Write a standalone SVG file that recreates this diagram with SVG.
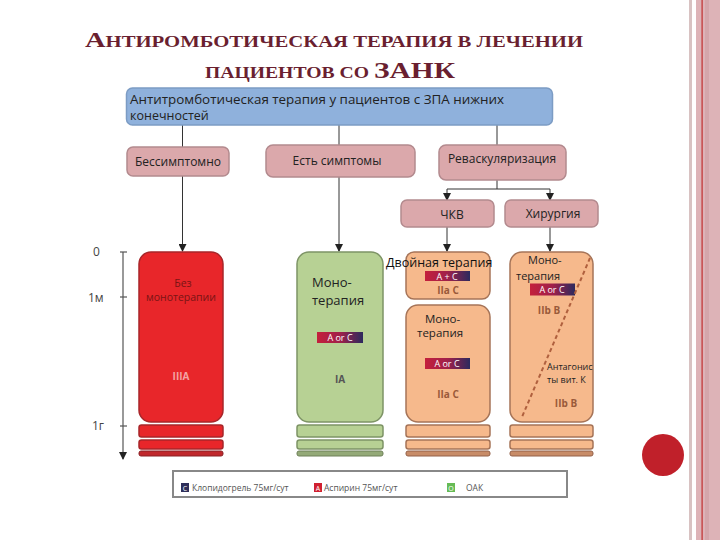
<svg xmlns="http://www.w3.org/2000/svg" width="720" height="540" viewBox="0 0 720 540">
<defs>
<marker id="arr" markerWidth="8" markerHeight="8" refX="7" refY="4" orient="auto" markerUnits="userSpaceOnUse">
<path d="M0,0 L8,4 L0,8 Z" fill="#222"/>
</marker>
<linearGradient id="badge" x1="0" y1="0" x2="1" y2="0">
<stop offset="0" stop-color="#c4203c"/>
<stop offset="0.5" stop-color="#a0204a"/>
<stop offset="1" stop-color="#2c2a5e"/>
</linearGradient>
<style>
.t{font-family:"Open Sans","Noto Sans","Liberation Sans",sans-serif;}
.ttl{font-family:"Liberation Serif","DejaVu Serif",serif;fill:#6a1f30;font-weight:bold;}
.pink{fill:#dba8ab;stroke:#b38a8e;stroke-width:1.5;}
.conn{stroke:#333;stroke-width:1;fill:none;}
.red{fill:#e8262a;stroke:#a8262a;stroke-width:1.5;}
.green{fill:#b7d194;stroke:#7e9466;stroke-width:1.5;}
.orange{fill:#f6b98c;stroke:#a67458;stroke-width:1.5;}
.bt{fill:#fff;font-size:9px;text-anchor:middle;}
.grade{font-size:10px;text-anchor:middle;font-weight:bold;}
</style>
</defs>
<rect width="720" height="540" fill="#fff"/>
<!-- decorative right border -->
<rect x="689" y="0" width="3" height="540" fill="#d8c2c2"/>
<rect x="696" y="0" width="24" height="540" fill="#ddb3b7"/>
<rect x="701.5" y="0" width="1.2" height="540" fill="#c0302e"/>
<rect x="705" y="0" width="4" height="540" fill="#d4a6aa"/>
<circle cx="663" cy="455" r="21" fill="#c0202a"/>

<!-- title -->
<g id="title">
<text class="ttl" x="85" y="47" font-size="16" textLength="498" lengthAdjust="spacingAndGlyphs"><tspan font-size="22">А</tspan>НТИРОМБОТИЧЕСКАЯ ТЕРАПИЯ В ЛЕЧЕНИИ</text>
<text class="ttl" x="205" y="78" font-size="16" textLength="250" lengthAdjust="spacingAndGlyphs">ПАЦИЕНТОВ СО <tspan font-size="24">ЗАНК</tspan></text>
</g>

<!-- connectors -->
<g id="connectors">
<line class="conn" x1="182.5" y1="125" x2="182.5" y2="147"/>
<line class="conn" x1="339" y1="125" x2="339" y2="145"/>
<line class="conn" x1="497" y1="125" x2="497" y2="145"/>
<line class="conn" x1="182.5" y1="176" x2="182.5" y2="251" marker-end="url(#arr)"/>
<line class="conn" x1="339" y1="177" x2="339" y2="251" marker-end="url(#arr)"/>
<line class="conn" x1="497" y1="180" x2="497" y2="189"/>
<line class="conn" x1="447" y1="189" x2="550" y2="189"/>
<line class="conn" x1="447" y1="189" x2="447" y2="200" marker-end="url(#arr)"/>
<line class="conn" x1="550" y1="189" x2="550" y2="200" marker-end="url(#arr)"/>
<line class="conn" x1="447" y1="227" x2="447" y2="251" marker-end="url(#arr)"/>
<line class="conn" x1="550" y1="227" x2="550" y2="251" marker-end="url(#arr)"/>
<!-- timeline -->
<line x1="123" y1="252" x2="123" y2="459" stroke="#555" stroke-width="1.2" marker-end="url(#arr)"/>
<line x1="120" y1="252" x2="127" y2="252" stroke="#555" stroke-width="1.2"/>
<line x1="120" y1="297" x2="127" y2="297" stroke="#555" stroke-width="1.2"/>
<line x1="120" y1="426" x2="127" y2="426" stroke="#555" stroke-width="1.2"/>
</g>
<g id="timeline-labels" class="t" fill="#444" font-size="12">
<text x="93" y="256">0</text>
<text x="88" y="302">1м</text>
<text x="92" y="430">1г</text>
</g>

<g id="top">
<rect x="126.5" y="88" width="426" height="37" rx="6" fill="#8fb1dc" stroke="#7c9cc4" stroke-width="1.5"/>
<text class="t" font-size="12.5" fill="#222" x="130" y="104" textLength="374" lengthAdjust="spacingAndGlyphs">Антитромботическая терапия у пациентов с ЗПА нижних</text>
<text class="t" font-size="12.5" fill="#222" x="130" y="120">конечностей</text>
</g>
<g id="asym">
<rect class="pink" x="127" y="147" width="102" height="29" rx="6"/>
<text class="t" font-size="12" fill="#222" x="178" y="166" text-anchor="middle">Бессимптомно</text>
</g>
<g id="sym">
<rect class="pink" x="266" y="145" width="149" height="32" rx="7"/>
<text class="t" font-size="12" fill="#222" x="337" y="165" text-anchor="middle">Есть симптомы</text>
</g>
<g id="revasc">
<rect class="pink" x="439" y="145" width="127" height="35" rx="7"/>
<text class="t" font-size="12" fill="#222" x="502" y="163" text-anchor="middle">Реваскуляризация</text>
</g>
<g id="pci">
<rect class="pink" x="401" y="200" width="93" height="27" rx="6"/>
<text class="t" font-size="12" fill="#222" x="452" y="219" text-anchor="middle">ЧКВ</text>
</g>
<g id="surg">
<rect class="pink" x="505" y="200" width="93" height="27" rx="6"/>
<text class="t" font-size="12" fill="#222" x="553" y="218" text-anchor="middle">Хирургия</text>
</g>

<g id="col-red">
<rect class="red" x="139" y="252" width="84" height="170" rx="12"/>
<text class="t" font-size="10.5" fill="#7a1414" x="183" y="287" text-anchor="middle">Без</text>
<text class="t" font-size="10.5" fill="#7a1414" x="181" y="301" text-anchor="middle">монотерапии</text>
<text class="t grade" fill="#f3a3a3" x="181" y="380">IIIA</text>
<rect class="red" x="139" y="425" width="84" height="12" rx="2.5"/>
<rect class="red" x="139" y="440" width="84" height="9" rx="2.5"/>
<rect x="139" y="451" width="84" height="5" rx="2" fill="#c0282c" stroke="#8a2024"/>
</g>

<g id="col-green">
<rect class="green" x="297" y="252" width="86" height="170" rx="12"/>
<text class="t" font-size="13" fill="#222" x="312" y="287">Моно-</text>
<text class="t" font-size="13" fill="#222" x="312" y="305">терапия</text>
<rect x="317" y="332" width="46" height="11" fill="url(#badge)"/>
<text class="t bt" x="340" y="341">A or C</text>
<text class="t grade" fill="#555" x="340" y="383">IA</text>
<rect class="green" x="297" y="425" width="86" height="12" rx="2.5"/>
<rect class="green" x="297" y="440" width="86" height="9" rx="2.5"/>
<rect x="297" y="451" width="86" height="5" rx="2" fill="#94aa78" stroke="#6e8058"/>
</g>

<g id="col-pci">
<rect class="orange" x="406" y="252" width="84" height="47" rx="8"/>
<rect x="425" y="271" width="45" height="10" fill="url(#badge)"/>
<text class="t bt" x="447" y="279.5">A + C</text>
<text class="t grade" fill="#9a5a3a" x="448" y="294">IIa C</text>
<text class="t" font-size="12.5" fill="#111" x="386" y="267">Двойная терапия</text>
<rect class="orange" x="406" y="305" width="84" height="117" rx="12"/>
<text class="t" font-size="11.5" fill="#222" x="425" y="323">Моно-</text>
<text class="t" font-size="11.5" fill="#222" x="417" y="337">терапия</text>
<rect x="425" y="358" width="45" height="11" fill="url(#badge)"/>
<text class="t bt" x="447" y="367">A or C</text>
<text class="t grade" fill="#9a5a3a" x="448" y="398">IIa C</text>
<rect class="orange" x="406" y="425" width="84" height="12" rx="2.5"/>
<rect class="orange" x="406" y="440" width="84" height="9" rx="2.5"/>
<rect x="406" y="451" width="84" height="5" rx="2" fill="#c88c68" stroke="#946048"/>
</g>

<g id="col-surg">
<rect class="orange" x="510" y="252" width="83" height="170" rx="12"/>
<text class="t" font-size="11" fill="#222" x="528" y="264">Моно-</text>
<text class="t" font-size="11" fill="#222" x="516" y="280">терапия</text>
<rect x="530" y="283.5" width="45" height="12" fill="url(#badge)"/>
<text class="t bt" x="552" y="293">A or C</text>
<text class="t grade" fill="#9a5a3a" x="549" y="314">IIb B</text>
<line x1="590" y1="258" x2="522" y2="417" stroke="#b0603e" stroke-width="2" stroke-dasharray="4,3"/>
<text class="t" font-size="9" fill="#222" x="547" y="370">Антагонис</text>
<text class="t" font-size="9" fill="#222" x="547" y="383">ты вит. К</text>
<text class="t grade" fill="#9a5a3a" x="566" y="407">IIb B</text>
<rect class="orange" x="510" y="425" width="83" height="12" rx="2.5"/>
<rect class="orange" x="510" y="440" width="83" height="9" rx="2.5"/>
<rect x="510" y="451" width="83" height="5" rx="2" fill="#c88c68" stroke="#946048"/>
</g>

<g id="legend">
<rect x="173" y="471" width="394" height="26" fill="#fff" stroke="#888" stroke-width="2"/>
<rect x="181" y="483" width="8" height="9" fill="#2e2e5a"/>
<text class="t" font-size="7" fill="#fff" x="185" y="490.5" text-anchor="middle">C</text>
<text class="t" font-size="8.5" fill="#555" x="192" y="491">Клопидогрель 75мг/сут</text>
<rect x="314" y="483" width="8" height="9" fill="#d02030"/>
<text class="t" font-size="7" fill="#fff" x="318" y="490.5" text-anchor="middle">A</text>
<text class="t" font-size="8.5" fill="#555" x="324" y="491">Аспирин 75мг/сут</text>
<rect x="447" y="483" width="8" height="9" fill="#66bb55"/>
<text class="t" font-size="7" fill="#fff" x="451" y="490.5" text-anchor="middle">O</text>
<text class="t" font-size="8.5" fill="#555" x="466" y="491">ОАК</text>
</g>
</svg>
